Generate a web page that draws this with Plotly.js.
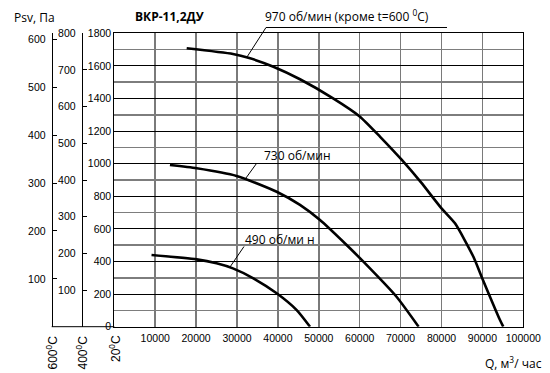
<!DOCTYPE html>
<html>
<head>
<meta charset="utf-8">
<script src="https://cdn.plot.ly/plotly-3.0.1.min.js"></script>
<style>html,body{margin:0;padding:0;background:#fff;}#chart{width:550px;height:373px;}</style>
</head>
<body>
<div id="chart"></div>
<script>
// Data
const q970 = [17700, 29000, 33000, 38900, 45400, 53500, 60000, 65000, 70300, 75000, 80000, 83300, 87800, 89800, 94300, 95100];
const p970 = [1708, 1673, 1648, 1595, 1518, 1401, 1290, 1165, 1023, 885, 726, 634, 429, 307, 41, 0];
const q730 = [13600, 20150, 29900, 39700, 45400, 50300, 56800, 60900, 69000, 74400];
const p730 = [992, 972, 925, 828, 747, 654, 501, 399, 184, 0];
const q490 = [9100, 20150, 25000, 29000, 34000, 39700, 44600, 47850];
const p490 = [440, 413, 389, 358, 297, 205, 102, 0];
const xTicks = [10000, 20000, 30000, 40000, 50000, 60000, 70000, 80000, 90000, 100000];
const y20Ticks = [0, 200, 400, 600, 800, 1000, 1200, 1400, 1600, 1800];
const y20Minor = [100, 300, 500, 700, 900, 1100, 1300, 1500, 1700];
const y400Ticks = [100, 200, 300, 400, 500, 600, 700, 800];
const y600Ticks = [100, 200, 300, 400, 500, 600];

const W = 550, H = 373;
const px = v => v / W;
const py = v => (H - v) / H;
const tickFont = {family: '"Liberation Sans", Arial, sans-serif', size: 10.5, color: '#000'};
const rotFont = {family: '"Liberation Sans", Arial, sans-serif', size: 12, color: '#000'};
const txtFont = {family: '"Open Sans", "Noto Sans", sans-serif', size: 12, color: '#000'};

const lineStyle = {color: '#000', width: 2.6, shape: 'spline', smoothing: 0.6};
const traces = [
  {x: q970, y: p970, mode: 'lines', line: lineStyle, hoverinfo: 'skip'},
  {x: q730, y: p730, mode: 'lines', line: lineStyle, hoverinfo: 'skip'},
  {x: q490, y: p490, mode: 'lines', line: lineStyle, hoverinfo: 'skip'},
  {x: [null], y: [null], yaxis: 'y2', mode: 'lines', hoverinfo: 'skip'},
  {x: [null], y: [null], yaxis: 'y3', mode: 'lines', hoverinfo: 'skip'},
  {x: [null], y: [null], yaxis: 'y4', mode: 'lines', hoverinfo: 'skip'}
];

const xDom = [px(114.3), px(523.3)];
const yDom = [py(326.7), py(33.3)];

const layout = {
  width: W, height: H,
  margin: {l: 0, r: 0, t: 0, b: 0},
  paper_bgcolor: '#fff', plot_bgcolor: '#fff',
  showlegend: false,
  xaxis: {
    domain: xDom, range: [0, 100000], tickvals: xTicks, ticktext: xTicks.map(String),
    showgrid: true, gridcolor: '#7a7a7a', gridwidth: 1.5,
    showline: true, linecolor: '#000', linewidth: 1, mirror: true,
    ticks: '', zeroline: false, tickfont: tickFont, ticklabelstandoff: 2
  },
  // main 20°C axis with black grid at every 200
  yaxis: {
    domain: yDom, range: [0, 1800], tickvals: y20Ticks, ticktext: y20Ticks.map(String),
    showgrid: true, gridcolor: '#000', gridwidth: 1,
    showline: true, linecolor: '#000', linewidth: 1, mirror: true,
    ticks: '', zeroline: false, tickfont: tickFont
  },
  // helper axis for the grey intermediate gridlines
  yaxis4: {
    overlaying: 'y', side: 'right', anchor: 'x', range: [0, 1800], tickvals: y20Minor,
    showticklabels: false, ticks: '', showgrid: true, gridcolor: '#7d7d7d', gridwidth: 1.6,
    zeroline: false, showline: false
  },
  yaxis2: {
    overlaying: 'y', anchor: 'free', position: px(81.7), side: 'left',
    range: [0, 800], tickvals: y400Ticks, ticktext: y400Ticks.map(String),
    showgrid: false, zeroline: false, showline: true, linecolor: '#000', linewidth: 1,
    ticks: 'inside', ticklen: 4, tickcolor: '#000', tickfont: tickFont, ticklabelstandoff: 4
  },
  yaxis3: {
    overlaying: 'y', anchor: 'free', position: px(51.7), side: 'left',
    range: [0, 613], tickvals: y600Ticks, ticktext: y600Ticks.map(String),
    showgrid: false, zeroline: false, showline: true, linecolor: '#000', linewidth: 1,
    ticks: 'inside', ticklen: 4, tickcolor: '#000', tickfont: tickFont, ticklabelstandoff: 4
  },
  shapes: [
    {type: 'line', xref: 'paper', yref: 'paper', x0: px(51.7), x1: px(114.3), y0: py(326.7), y1: py(326.7), line: {color: '#000', width: 1}},
    // 970 leader + underline
    {type: 'line', xref: 'paper', yref: 'paper', x0: px(266), x1: px(447), y0: py(27.5), y1: py(27.5), line: {color: '#000', width: 1}},
    {type: 'line', xref: 'paper', yref: 'paper', x0: px(266), x1: px(247), y0: py(27.5), y1: py(57), line: {color: '#000', width: 1}},
    // 730 leader
    {type: 'line', xref: 'paper', yref: 'paper', x0: px(256.5), x1: px(244.5), y0: py(163.5), y1: py(180), line: {color: '#000', width: 1}},
    // 490 leader
    {type: 'line', xref: 'paper', yref: 'paper', x0: px(244), x1: px(230), y0: py(246.5), y1: py(267), line: {color: '#000', width: 1}}
  ],
  annotations: [
    {xref: 'paper', yref: 'paper', x: px(12), y: py(17), xanchor: 'left', yanchor: 'middle', showarrow: false,
     text: 'Psv, Па', font: txtFont},
    {xref: 'paper', yref: 'paper', x: px(169), y: py(16), xanchor: 'center', yanchor: 'middle', showarrow: false,
     text: '<b>ВКР-11,2ДУ</b>', font: txtFont},
    {xref: 'paper', yref: 'paper', x: px(263), y: py(16), xanchor: 'left', yanchor: 'middle', showarrow: false,
     text: '970 об/мин (кроме t=600 <sup>0</sup>C)', font: txtFont},
    {xref: 'paper', yref: 'paper', x: px(262), y: py(155), xanchor: 'left', yanchor: 'middle', showarrow: false,
     text: '730 об/мин', font: txtFont},
    {xref: 'paper', yref: 'paper', x: px(243), y: py(239), xanchor: 'left', yanchor: 'middle', showarrow: false,
     text: '490 об/ми н', font: txtFont},
    {xref: 'paper', yref: 'paper', x: px(544), y: py(363), xanchor: 'right', yanchor: 'middle', showarrow: false,
     text: 'Q, м<sup>3</sup>/ час', font: txtFont},
    {xref: 'paper', yref: 'paper', x: px(51), y: py(352.5), xanchor: 'center', yanchor: 'middle', showarrow: false,
     textangle: -90, text: '600<sup>0</sup>C', font: rotFont},
    {xref: 'paper', yref: 'paper', x: px(81), y: py(352.5), xanchor: 'center', yanchor: 'middle', showarrow: false,
     textangle: -90, text: '400<sup>0</sup>C', font: rotFont},
    {xref: 'paper', yref: 'paper', x: px(115), y: py(348), xanchor: 'center', yanchor: 'middle', showarrow: false,
     textangle: -90, text: '20<sup>0</sup>C', font: rotFont}
  ]
};

Plotly.newPlot('chart', traces, layout, {staticPlot: true, displayModeBar: false});
</script>
</body>
</html>
